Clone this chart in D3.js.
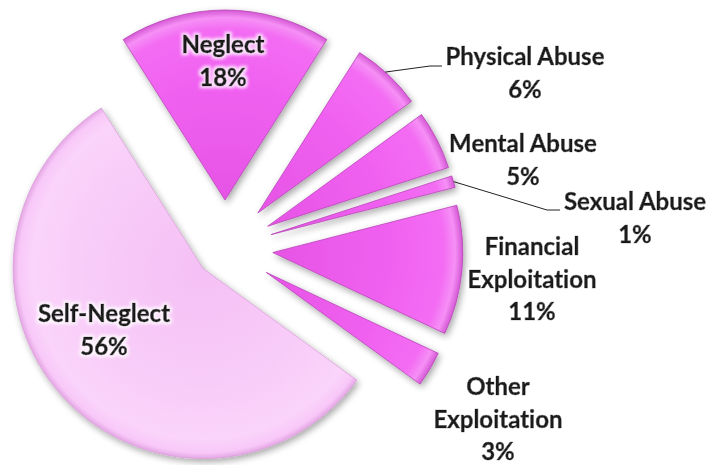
<!DOCTYPE html>
<html>
<head>
<meta charset="utf-8">
<script src="https://cdn.jsdelivr.net/npm/d3@7"></script>
<style>
body { margin: 0; background: #fff; }
text { font-family: Lato, "Open Sans", sans-serif; font-weight: bold; fill: #1a1a1a; font-variant-ligatures: none; }
</style>
</head>
<body>
<script>
var width = 712, height = 465;
//Chart values (percent of cases).
var categories = ['Neglect', 'Physical Abuse', 'Mental Abuse', 'Sexual Abuse', 'Financial Exploitation', 'Other Exploitation', 'Self-Neglect'];
var values = [18, 6, 5, 1, 11, 3, 56];
var pctLabels = ['18%', '6%', '5%', '1%', '11%', '3%', '56%'];

var cx = 225, cy = 248, radius = 190;

var svg = d3.select('body').append('svg')
	.attr('width', width)
	.attr('height', height);

var defs = svg.append('defs');
//Soft grey shadow under every slice.
var shadow = defs.append('filter').attr('id', 'shadow')
	.attr('x', '-20%').attr('y', '-20%').attr('width', '140%').attr('height', '140%');
shadow.append('feGaussianBlur').attr('in', 'SourceAlpha').attr('stdDeviation', 3.5);
shadow.append('feOffset').attr('dx', 2).attr('dy', 3).attr('result', 'blur');
shadow.append('feComponentTransfer').append('feFuncA').attr('type', 'linear').attr('slope', 0.35);
var merge = shadow.append('feMerge');
merge.append('feMergeNode');
merge.append('feMergeNode').attr('in', 'SourceGraphic');
//Glow behind the labels.
var glow = defs.append('filter').attr('id', 'glow')
	.attr('x', '-10%').attr('y', '-30%').attr('width', '120%').attr('height', '160%');
glow.append('feMorphology').attr('in', 'SourceAlpha').attr('operator', 'dilate').attr('radius', 1.5);
glow.append('feGaussianBlur').attr('stdDeviation', 1.5);
glow.append('feColorMatrix').attr('type', 'matrix')
	.attr('values', '0 0 0 0 1  0 0 0 0 1  0 0 0 0 1  0 0 0 0.8 0').attr('result', 'w');
var gm = glow.append('feMerge');
gm.append('feMergeNode').attr('in', 'w');
gm.append('feMergeNode').attr('in', 'SourceGraphic');

//Bevel-like gradients, one for the bright slices and one for the pale one.
function addGradient(id, stops) {
	var g = defs.append('radialGradient').attr('id', id)
		.attr('gradientUnits', 'userSpaceOnUse')
		.attr('cx', 0).attr('cy', 0).attr('r', radius);
	stops.forEach(function(s) {
		g.append('stop').attr('offset', s[0]).attr('stop-color', s[1]);
	});
}
addGradient('bright', [[0, '#e654e6'], [0.6, '#f060f0'], [0.9, '#f36cf3'], [0.96, '#f68ff6'], [1, '#d458d4']]);
addGradient('pale', [[0, '#f5c0f5'], [0.6, '#f8ccf8'], [0.9, '#fad4fa'], [0.97, '#f8c8f8'], [1, '#e4a6e4']]);

var pie = d3.pie().sort(null)
	.startAngle(-values[0] / 100 * Math.PI)
	.endAngle(2 * Math.PI - values[0] / 100 * Math.PI);
var arcs = pie(values);
var arc = d3.arc().innerRadius(0).outerRadius(radius);

var maxVal = d3.max(values);
function explode(d) {
	return d.data === maxVal ? 30 : 48;
}
function offset(d) {
	var a = (d.startAngle + d.endAngle) / 2, e = explode(d);
	return [Math.sin(a) * e, -Math.cos(a) * e];
}

var pieG = svg.append('g').attr('transform', 'translate(' + cx + ',' + cy + ')');
pieG.selectAll('.slice').data(arcs).enter().append('path')
	.attr('class', 'slice')
	.attr('transform', function(d) { var o = offset(d); return 'translate(' + o[0] + ',' + o[1] + ')'; })
	.attr('d', arc)
	.attr('fill', function(d) { return d.data === maxVal ? 'url(#pale)' : 'url(#bright)'; })
	.attr('stroke', function(d) { return d.data === maxVal ? '#d9a0d9' : '#b845b8'; })
	.attr('stroke-width', 0.8)
	.attr('stroke-linejoin', 'round')
	.attr('filter', 'url(#shadow)');

//Leader lines for the two labels sitting away from their slices.
function edgePoint(i, frac) {
	var d = arcs[i], a = d.startAngle + (d.endAngle - d.startAngle) * frac, o = offset(d);
	return [cx + o[0] + Math.sin(a) * radius, cy + o[1] - Math.cos(a) * radius];
}
var leaders = [
	{i: 1, frac: 0.45, bend: [430, 66], end: [442, 66]},
	{i: 3, frac: 0.5, bend: [547, 210], end: [560, 210]}
];
svg.selectAll('.leader').data(leaders).enter().append('polyline')
	.attr('class', 'leader')
	.attr('points', function(l) { var p = edgePoint(l.i, l.frac); return [p, l.bend, l.end].join(' '); })
	.attr('fill', 'none')
	.attr('stroke', '#222')
	.attr('stroke-width', 1);

//Label layout: centre x and first baseline for each category.
var labelPos = [[223, 53], [525, 65], [523, 152], [635, 210], [532, 255], [498, 395], [104, 322]];
var labelLines = [['Neglect'], ['Physical Abuse'], ['Mental Abuse'], ['Sexual Abuse'], ['Financial', 'Exploitation'], ['Other', 'Exploitation'], ['Self-Neglect']];
var lineH = 32.5;

var labels = svg.selectAll('.label').data(categories).enter().append('text')
	.attr('class', 'label')
	.attr('text-anchor', 'middle')
	.attr('font-size', 24)
	.attr('stroke', '#1a1a1a')
	.attr('stroke-width', 0.6)
	.attr('filter', 'url(#glow)');
labels.each(function(c, i) {
	var t = d3.select(this);
	var lines = labelLines[i].concat([pctLabels[i]]);
	lines.forEach(function(s, j) {
		t.append('tspan')
			.attr('x', labelPos[i][0])
			.attr('y', labelPos[i][1] + j * lineH)
			.text(s);
	});
});
</script>
</body>
</html>
